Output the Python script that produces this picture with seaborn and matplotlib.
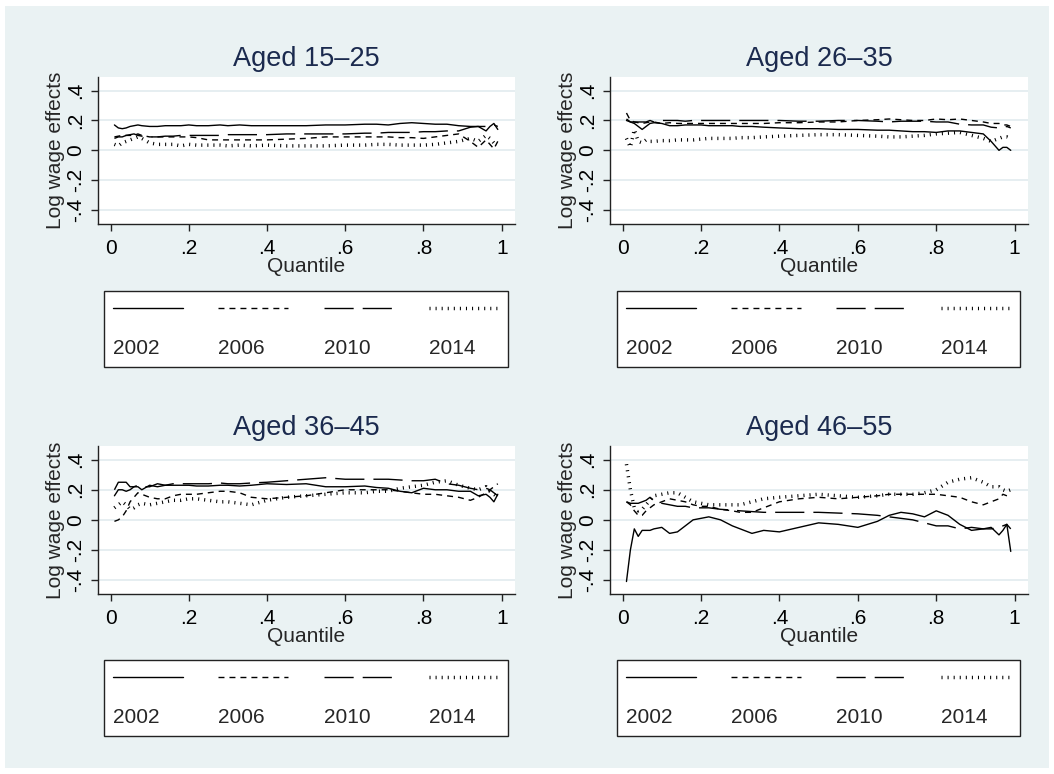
import numpy as np
import pandas as pd
import matplotlib
matplotlib.use("Agg")
import matplotlib.pyplot as plt
from matplotlib.lines import Line2D
from matplotlib.patches import Rectangle
import seaborn as sns

# Quantiles the effects were read at
quantiles = [0.01, 0.02, 0.03, 0.04, 0.05, 0.06, 0.07, 0.08, 0.10, 0.12,
             0.14, 0.16, 0.18, 0.20, 0.22, 0.25, 0.28, 0.30, 0.33, 0.36,
             0.40, 0.45, 0.50, 0.55, 0.60, 0.65, 0.68, 0.71, 0.74, 0.77,
             0.80, 0.83, 0.86, 0.89, 0.92, 0.94, 0.96, 0.97, 0.98, 0.99]
years = ["2002", "2006", "2010", "2014"]

# Aged 15-25
a15_2002 = [0.17, 0.15, 0.145, 0.15, 0.16, 0.165, 0.17, 0.165, 0.16, 0.16,
            0.165, 0.165, 0.165, 0.17, 0.165, 0.165, 0.17, 0.165, 0.17, 0.165,
            0.165, 0.165, 0.165, 0.17, 0.17, 0.175, 0.175, 0.17, 0.18, 0.185,
            0.18, 0.175, 0.175, 0.165, 0.16, 0.16, 0.13, 0.16, 0.18, 0.14]
a15_2006 = [0.09, 0.095, 0.1, 0.1, 0.1, 0.1, 0.11, 0.1, 0.09, 0.09,
            0.09, 0.09, 0.09, 0.09, 0.085, 0.07, 0.07, 0.07, 0.07, 0.07,
            0.07, 0.075, 0.08, 0.09, 0.09, 0.09, 0.09, 0.09, 0.085, 0.085,
            0.08, 0.09, 0.1, 0.11, 0.06, 0.02, 0.07, 0.04, 0.01, 0.06]
a15_2010 = [0.08, 0.09, 0.09, 0.1, 0.105, 0.11, 0.1, 0.095, 0.09, 0.09,
            0.095, 0.095, 0.1, 0.1, 0.1, 0.1, 0.1, 0.105, 0.105, 0.105,
            0.105, 0.11, 0.11, 0.11, 0.11, 0.115, 0.115, 0.12, 0.12, 0.12,
            0.125, 0.125, 0.13, 0.13, 0.155, 0.16, 0.16, 0.17, 0.17, 0.16]
a15_2014 = [0.04, 0.03, 0.05, 0.06, 0.07, 0.08, 0.09, 0.08, 0.05, 0.04,
            0.04, 0.04, 0.03, 0.04, 0.035, 0.035, 0.035, 0.03, 0.035, 0.03,
            0.035, 0.03, 0.03, 0.03, 0.035, 0.035, 0.04, 0.04, 0.035, 0.035,
            0.035, 0.04, 0.05, 0.06, 0.08, 0.06, 0.1, 0.08, 0.05, 0.05]

# Aged 26-35
a26_2002 = [0.2, 0.19, 0.18, 0.16, 0.14, 0.16, 0.18, 0.185, 0.18, 0.165,
            0.165, 0.17, 0.17, 0.17, 0.165, 0.165, 0.165, 0.16, 0.16, 0.155,
            0.15, 0.145, 0.145, 0.14, 0.14, 0.135, 0.135, 0.13, 0.125, 0.125,
            0.12, 0.13, 0.13, 0.12, 0.11, 0.06, 0.0, 0.02, 0.02, 0.0]
a26_2006 = [0.25, 0.2, 0.19, 0.185, 0.18, 0.185, 0.19, 0.19, 0.18, 0.185,
            0.18, 0.18, 0.18, 0.18, 0.18, 0.18, 0.18, 0.18, 0.18, 0.18,
            0.185, 0.185, 0.19, 0.19, 0.2, 0.205, 0.21, 0.205, 0.2, 0.2,
            0.21, 0.205, 0.21, 0.2, 0.19, 0.18, 0.18, 0.17, 0.17, 0.16]
a26_2010 = [0.21, 0.19, 0.19, 0.19, 0.19, 0.19, 0.2, 0.19, 0.2, 0.2,
            0.2, 0.195, 0.2, 0.2, 0.2, 0.2, 0.2, 0.2, 0.2, 0.2,
            0.2, 0.195, 0.195, 0.2, 0.2, 0.195, 0.19, 0.195, 0.195, 0.195,
            0.19, 0.19, 0.175, 0.17, 0.17, 0.155, 0.15, 0.15, 0.16, 0.15]
a26_2014 = [0.08, 0.02, 0.14, 0.06, 0.05, 0.07, 0.06, 0.06, 0.065, 0.065,
            0.07, 0.07, 0.07, 0.075, 0.08, 0.08, 0.08, 0.085, 0.085, 0.09,
            0.095, 0.1, 0.105, 0.105, 0.1, 0.095, 0.09, 0.09, 0.095, 0.1,
            0.11, 0.115, 0.12, 0.1, 0.08, 0.06, 0.08, 0.09, 0.09, 0.08]

# Aged 36-45
a36_2002 = [0.16, 0.2, 0.2, 0.19, 0.2, 0.22, 0.22, 0.2, 0.23, 0.22,
            0.23, 0.23, 0.23, 0.23, 0.225, 0.225, 0.23, 0.23, 0.225, 0.23,
            0.24, 0.235, 0.24, 0.22, 0.22, 0.225, 0.215, 0.21, 0.19, 0.18,
            0.21, 0.2, 0.2, 0.19, 0.19, 0.16, 0.17, 0.15, 0.12, 0.17]
a36_2006 = [-0.01, 0.0, 0.02, 0.06, 0.12, 0.15, 0.18, 0.17, 0.15, 0.14,
            0.14, 0.16, 0.17, 0.17, 0.17, 0.18, 0.19, 0.19, 0.18, 0.15,
            0.14, 0.15, 0.16, 0.18, 0.2, 0.2, 0.2, 0.2, 0.19, 0.18,
            0.17, 0.17, 0.16, 0.15, 0.13, 0.15, 0.18, 0.2, 0.22, 0.24]
a36_2010 = [0.2, 0.25, 0.25, 0.25, 0.22, 0.22, 0.23, 0.22, 0.22, 0.24,
            0.23, 0.24, 0.24, 0.24, 0.24, 0.24, 0.245, 0.24, 0.24, 0.245,
            0.25, 0.26, 0.27, 0.28, 0.27, 0.27, 0.27, 0.27, 0.265, 0.26,
            0.26, 0.27, 0.24, 0.23, 0.21, 0.2, 0.21, 0.2, 0.18, 0.16]
a36_2014 = [0.08, 0.1, 0.12, 0.1, 0.07, 0.08, 0.1, 0.11, 0.1, 0.11,
            0.12, 0.13, 0.13, 0.14, 0.14, 0.13, 0.12, 0.12, 0.11, 0.1,
            0.13, 0.15, 0.16, 0.17, 0.18, 0.18, 0.19, 0.19, 0.21, 0.22,
            0.23, 0.25, 0.26, 0.23, 0.21, 0.2, 0.22, 0.19, 0.17, 0.15]

# Aged 46-55
a46_2002 = [-0.41, -0.2, -0.06, -0.11, -0.07, -0.07, -0.07, -0.06, -0.05, -0.09,
            -0.08, -0.04, 0.0, 0.01, 0.02, 0.0, -0.04, -0.06, -0.09, -0.07,
            -0.08, -0.05, -0.02, -0.03, -0.05, -0.01, 0.03, 0.05, 0.04, 0.02,
            0.06, 0.03, -0.03, -0.07, -0.06, -0.05, -0.1, -0.07, -0.03, -0.21]
a46_2006 = [0.12, 0.1, 0.06, 0.03, 0.03, 0.06, 0.08, 0.1, 0.12, 0.14,
            0.13, 0.12, 0.1, 0.09, 0.09, 0.07, 0.06, 0.05, 0.05, 0.08,
            0.12, 0.14, 0.15, 0.14, 0.15, 0.16, 0.17, 0.17, 0.17, 0.17,
            0.17, 0.16, 0.15, 0.12, 0.1, 0.12, 0.14, 0.17, 0.16, 0.15]
a46_2010 = [0.12, 0.11, 0.11, 0.11, 0.12, 0.13, 0.15, 0.13, 0.11, 0.1,
            0.09, 0.09, 0.08, 0.08, 0.08, 0.07, 0.065, 0.06, 0.055, 0.05,
            0.05, 0.05, 0.05, 0.045, 0.04, 0.03, 0.02, 0.01, 0.0, -0.02,
            -0.04, -0.04, -0.06, -0.05, -0.06, -0.06, -0.05, -0.04, -0.03, -0.06]
a46_2014 = [0.37, 0.2, 0.08, 0.06, 0.07, 0.1, 0.13, 0.16, 0.17, 0.18,
            0.18, 0.15, 0.12, 0.11, 0.1, 0.1, 0.1, 0.1, 0.12, 0.14,
            0.15, 0.16, 0.17, 0.16, 0.15, 0.16, 0.17, 0.17, 0.17, 0.18,
            0.2, 0.25, 0.27, 0.28, 0.25, 0.22, 0.22, 0.2, 0.19, 0.2]

titles = ["Aged 15\u201325", "Aged 26\u201335", "Aged 36\u201345", "Aged 46\u201355"]
panel_series = [
    [a15_2002, a15_2006, a15_2010, a15_2014],
    [a26_2002, a26_2006, a26_2010, a26_2014],
    [a36_2002, a36_2006, a36_2010, a36_2014],
    [a46_2002, a46_2006, a46_2010, a46_2014],
]

xticks = [0, 0.2, 0.4, 0.6, 0.8, 1]
xtick_labels = ["0", ".2", ".4", ".6", ".8", "1"]
yticks = [-0.4, -0.2, 0, 0.2, 0.4]
ytick_labels = ["-.4", "-.2", "0", ".2", ".4"]

# Stata-like line patterns
line_colors = {y: "black" for y in years}
line_dashes = {"2002": "", "2006": (4.3, 3.6), "2010": (21, 6.5), "2014": (0.3, 1.45)}
line_widths = {"2002": 1.0, "2006": 1.0, "2010": 1.0, "2014": 2.5}

sns.set_style("white")
plt.rcParams["font.family"] = ["Liberation Sans", "DejaVu Sans"]

W, H = 1054, 774
fig = plt.figure(figsize=(W / 100, H / 100), dpi=100)
fig.patch.set_facecolor("white")
fig.patches.append(Rectangle((5 / W, 1 - 768 / H), 1044 / W, 762 / H,
                             transform=fig.transFigure, facecolor="#EAF2F3",
                             edgecolor="none", zorder=-10))

# pixel boxes: (left, top, right, bottom)
axes_px = [(98, 77, 515, 224), (610, 77, 1028, 224),
           (98, 446, 515, 594), (610, 446, 1028, 594)]
legend_px = [(104, 291, 508), (617, 291, 1020), (104, 660, 508), (617, 660, 1020)]

text_color = "#1B2A4E"
fs = 15

for i in range(4):
    l, t, r, b = axes_px[i]
    ax = fig.add_axes([l / W, 1 - b / H, (r - l) / W, (b - t) / H])
    ax.set_facecolor("white")

    rows = []
    for yr, vals in zip(years, panel_series[i]):
        for q, v in zip(quantiles, vals):
            rows.append({"quantile": q, "effect": v, "year": yr})
    df = pd.DataFrame(rows)

    sns.lineplot(data=df, x="quantile", y="effect", hue="year", style="year",
                 size="year", palette=line_colors, dashes=line_dashes,
                 sizes=line_widths, estimator=None, legend=False, ax=ax)

    ax.set_xlim(-0.032, 1.034)
    ax.set_ylim(-0.493, 0.491)
    ax.set_xticks(xticks)
    ax.set_xticklabels(xtick_labels)
    ax.set_yticks(yticks)
    ax.set_yticklabels(ytick_labels, rotation=90, va="center")
    ax.yaxis.grid(True, color="#E1EBEF", linewidth=1.2)
    ax.xaxis.grid(False)
    ax.set_axisbelow(True)
    for side in ["top", "right"]:
        ax.spines[side].set_visible(False)
    for side in ["left", "bottom"]:
        ax.spines[side].set_color("#222222")
        ax.spines[side].set_linewidth(1.0)
    ax.tick_params(axis="both", direction="out", length=5, width=1.0,
                   color="#222222", labelsize=fs, labelcolor="black",
                   left=True, bottom=True)
    ax.tick_params(axis="x", pad=6)
    ax.tick_params(axis="y", pad=4)
    ax.set_xlabel("Quantile", fontsize=fs, labelpad=-1)
    ax.set_ylabel("Log wage effects", fontsize=fs, labelpad=1)
    ax.set_title(titles[i], fontsize=19.5, color=text_color, pad=8)

    # legend: line sample on top, year under it
    handles, labels = [], []
    for yr in years:
        handles.append(Line2D([], [], color="black", linewidth=line_widths[yr],
                              dashes=line_dashes[yr]))
        labels.append("00000..")
        handles.append(Line2D([], [], linestyle="none"))
        labels.append(yr)
    lx0, ly0, lx1 = legend_px[i]
    leg = ax.legend(handles, labels, ncol=4, mode="expand", loc="upper left",
                    bbox_to_anchor=(lx0 / W, 1 - ly0 / H, (lx1 - lx0) / W, 0),
                    bbox_transform=fig.transFigure, fontsize=fs,
                    handlelength=3.36, handletextpad=-3.36, borderpad=0.43,
                    borderaxespad=0, labelspacing=0.95, columnspacing=0,
                    fancybox=False, frameon=True, framealpha=1)
    leg.get_frame().set_edgecolor("#222222")
    leg.get_frame().set_linewidth(1.0)
    leg.get_frame().set_facecolor("white")
    for k, txt in enumerate(leg.get_texts()):
        if k % 2 == 0:
            txt.set_color((0, 0, 0, 0))

fig.savefig("out.png", dpi=100)
